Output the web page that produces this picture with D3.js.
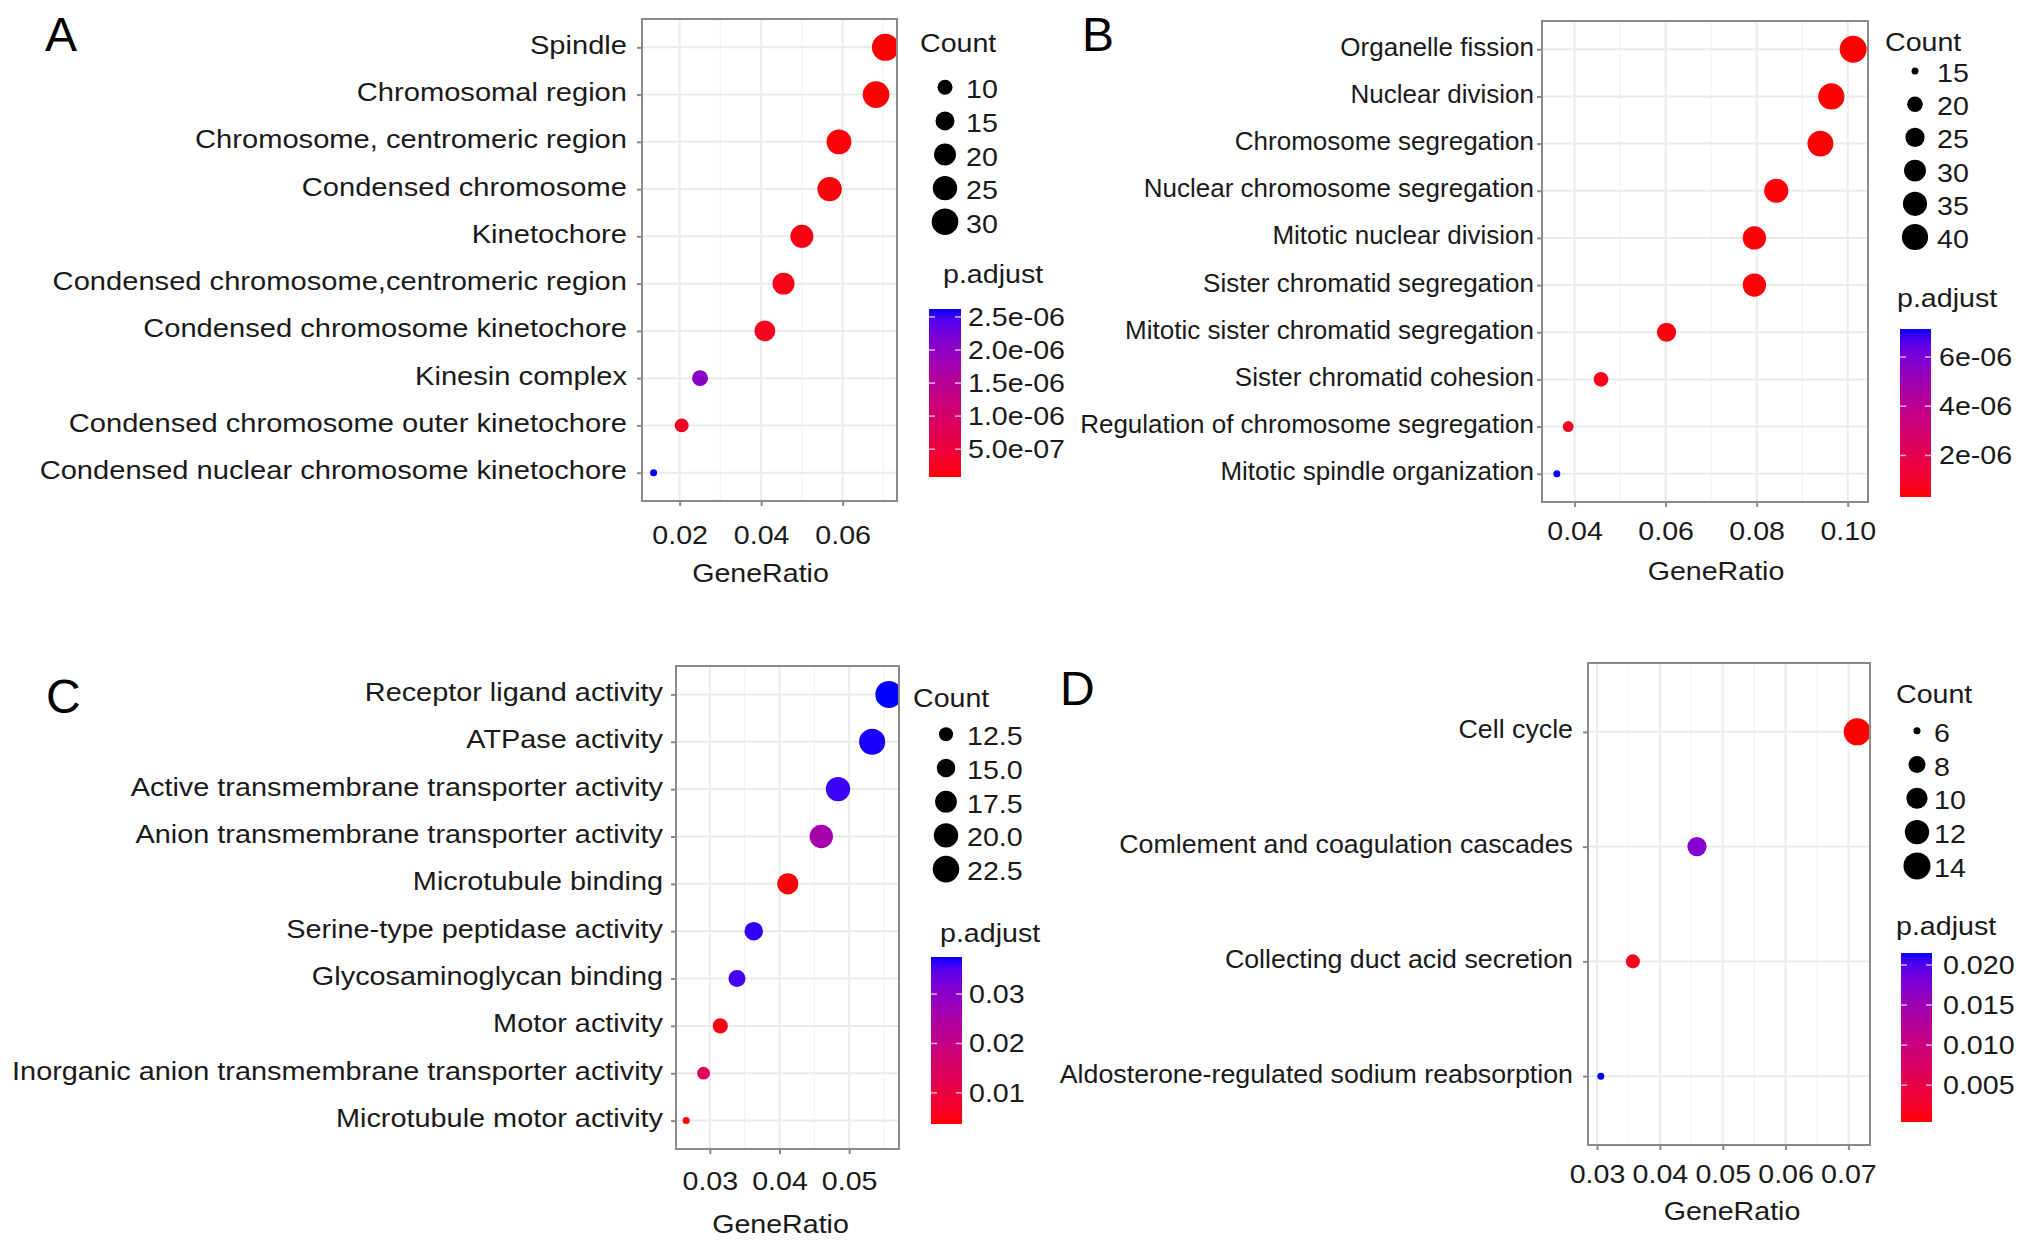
<!DOCTYPE html>
<html>
<head>
<meta charset="utf-8">
<script src="https://cdn.jsdelivr.net/npm/d3@7"></script>
<style>
  body { margin: 0; background: #fff; }
  svg text { font-family: 'Liberation Sans', Arial, Helvetica, sans-serif; }
</style>
</head>
<body>
<svg id="fig" width="2032" height="1247"></svg>
<script>
// ---- data ----
const termsA = ["Spindle", "Chromosomal region", "Chromosome, centromeric region", "Condensed chromosome",
  "Kinetochore", "Condensed chromosome,centromeric region", "Condensed chromosome kinetochore",
  "Kinesin complex", "Condensed chromosome outer kinetochore", "Condensed nuclear chromosome kinetochore"];
const ratioA = [0.0705, 0.0682, 0.0591, 0.0568, 0.0500, 0.0455, 0.0409, 0.0250, 0.0205, 0.0136];
const countA = [31, 30, 26, 25, 22, 20, 18, 11, 9, 6];
const padjA = [8e-8, 9e-8, 1.2e-7, 1.1e-7, 1.6e-7, 2.0e-7, 2.4e-7, 2.05e-6, 3.2e-7, 2.62e-6];

const termsB = ["Organelle fission", "Nuclear division", "Chromosome segregation", "Nuclear chromosome segregation",
  "Mitotic nuclear division", "Sister chromatid segregation", "Mitotic sister chromatid segregation",
  "Sister chromatid cohesion", "Regulation of chromosome segregation", "Mitotic spindle organization"];
const ratioB = [0.1012, 0.0964, 0.0940, 0.0843, 0.0795, 0.0795, 0.0602, 0.0458, 0.0386, 0.0361];
const countB = [42, 40, 39, 35, 33, 33, 25, 19, 16, 15];
const padjB = [3.1e-7, 3.2e-7, 3.3e-7, 3.5e-7, 3.6e-7, 3.8e-7, 4.6e-7, 6.0e-7, 8.5e-7, 7.14e-6];

const termsC = ["Receptor ligand activity", "ATPase activity", "Active transmembrane transporter activity",
  "Anion transmembrane transporter activity", "Microtubule binding", "Serine-type peptidase activity",
  "Glycosaminoglycan binding", "Motor activity", "Inorganic anion transmembrane transporter activity",
  "Microtubule motor activity"];
const ratioC = [0.0557, 0.0533, 0.0484, 0.0460, 0.0412, 0.0363, 0.0339, 0.0315, 0.0291, 0.0266];
const countC = [23, 22, 20, 19, 17, 15, 14, 13, 12, 11];
const padjC = [0.0375, 0.0372, 0.0362, 0.0258, 0.0042, 0.0366, 0.0358, 0.0050, 0.0135, 0.0037];

const termsD = ["Cell cycle", "Comlement and coagulation cascades", "Collecting duct acid secretion",
  "Aldosterone-regulated sodium reabsorption"];
const ratioD = [0.0714, 0.0459, 0.0357, 0.0306];
const countD = [14, 9, 7, 6];
const padjD = [0.0004, 0.0172, 0.0016, 0.0215];

// legend breaks / tick labels
const sizeBreaksA = [10, 15, 20, 25, 30], sizeLabelsA = ["10", "15", "20", "25", "30"];
const sizeBreaksB = [15, 20, 25, 30, 35, 40], sizeLabelsB = ["15", "20", "25", "30", "35", "40"];
const sizeBreaksC = [12.5, 15, 17.5, 20, 22.5], sizeLabelsC = ["12.5", "15.0", "17.5", "20.0", "22.5"];
const sizeBreaksD = [6, 8, 10, 12, 14], sizeLabelsD = ["6", "8", "10", "12", "14"];

const padjTicksA = [5e-7, 1e-6, 1.5e-6, 2e-6, 2.5e-6], padjLabelsA = ["5.0e-07", "1.0e-06", "1.5e-06", "2.0e-06", "2.5e-06"];
const padjTicksB = [2e-6, 4e-6, 6e-6], padjLabelsB = ["2e-06", "4e-06", "6e-06"];
const padjTicksC = [0.01, 0.02, 0.03], padjLabelsC = ["0.01", "0.02", "0.03"];
const padjTicksD = [0.005, 0.010, 0.015, 0.020], padjLabelsD = ["0.005", "0.010", "0.015", "0.020"];

const xTicksA = [0.02, 0.04, 0.06];
const xTicksB = [0.04, 0.06, 0.08, 0.10];
const xTicksC = [0.03, 0.04, 0.05];
const xTicksD = [0.03, 0.04, 0.05, 0.06, 0.07];

// ---- layout ----
const FS = 26;      // text size
const SX = 1.1;     // text is a bit wide in the original
const TXT = "#1a1a1a";
const GRID = "#EBEBEB";
const BORDER = "#8A8A8A";

const panels = [
  { name: "A", terms: termsA, ratio: ratioA, count: countA, padj: padjA,
    sizeBreaks: sizeBreaksA, sizeLabels: sizeLabelsA, padjTicks: padjTicksA, padjLabels: padjLabelsA, xTicks: xTicksA,
    box: { left: 642, right: 897, top: 19, bottom: 501 }, labelGap: 15, labelSX: 1.12,
    tickDy: 43, titleDy: 81, titleDx: -9, letter: [45, 51],
    lg: { countX: 920, countY: 52, dotX: 945, labelX: 966, itemY0: 87.3, itemStep: 33.6,
          pTitleX: 943, pTitleY: 283, barX: 929, barW: 32, barTop: 309, barBottom: 477, barLabelX: 968 } },
  { name: "B", terms: termsB, ratio: ratioB, count: countB, padj: padjB,
    sizeBreaks: sizeBreaksB, sizeLabels: sizeLabelsB, padjTicks: padjTicksB, padjLabels: padjLabelsB, xTicks: xTicksB,
    box: { left: 1542, right: 1868, top: 21, bottom: 502 }, labelGap: 8, labelSX: 1.0,
    tickDy: 38, titleDy: 78, titleDx: 11, letter: [1082, 51],
    lg: { countX: 1885, countY: 51, dotX: 1915, labelX: 1937, itemY0: 71, itemStep: 33.2,
          pTitleX: 1897, pTitleY: 307, barX: 1900, barW: 31, barTop: 329, barBottom: 497, barLabelX: 1939 } },
  { name: "C", terms: termsC, ratio: ratioC, count: countC, padj: padjC,
    sizeBreaks: sizeBreaksC, sizeLabels: sizeLabelsC, padjTicks: padjTicksC, padjLabels: padjLabelsC, xTicks: xTicksC,
    box: { left: 676, right: 899, top: 666, bottom: 1149 }, labelGap: 13, labelSX: 1.11,
    tickDy: 41, titleDy: 84, titleDx: -7, letter: [46, 713],
    lg: { countX: 913, countY: 707, dotX: 946, labelX: 967, itemY0: 734.3, itemStep: 33.7,
          pTitleX: 940, pTitleY: 942, barX: 931, barW: 31, barTop: 957, barBottom: 1124, barLabelX: 969 } },
  { name: "D", terms: termsD, ratio: ratioD, count: countD, padj: padjD,
    sizeBreaks: sizeBreaksD, sizeLabels: sizeLabelsD, padjTicks: padjTicksD, padjLabels: padjLabelsD, xTicks: xTicksD,
    box: { left: 1588, right: 1870, top: 663, bottom: 1145 }, labelGap: 15, labelSX: 1.03,
    tickDy: 38, titleDy: 75, titleDx: 3, letter: [1060, 705],
    lg: { countX: 1896, countY: 703, dotX: 1917, labelX: 1934, itemY0: 730.7, itemStep: 33.8,
          pTitleX: 1896, pTitleY: 935, barX: 1901, barW: 31, barTop: 953, barBottom: 1122, barLabelX: 1943 } }
];

const svg = d3.select("#fig");
svg.append("rect").attr("width", 2032).attr("height", 1247).attr("fill", "#fff");
const defs = svg.append("defs");

// stretched text helper
function label(g, x, y, s, anchor) {
  return g.append("text")
    .attr("transform", `translate(${x},${y}) scale(${SX},1)`)
    .attr("text-anchor", anchor || "start")
    .attr("font-size", FS)
    .attr("fill", TXT)
    .text(s);
}

function drawPanel(p) {
  const { left, right, top, bottom } = p.box;
  const g = svg.append("g").attr("class", "panel-" + p.name);

  const ext = d3.extent(p.ratio);
  const pad = (ext[1] - ext[0]) * 0.05;
  const x = d3.scaleLinear().domain([ext[0] - pad, ext[1] + pad]).range([left, right]);
  const y = d3.scalePoint().domain(p.terms).range([top, bottom]).padding(0.6);

  const cExt = d3.extent(p.count);
  const rScale = d3.scaleSqrt().domain([0, cExt[1] - cExt[0]]).range([3.5, 13.5]);
  const radius = c => rScale(Math.max(0, c - cExt[0]));

  const pExt = d3.extent(p.padj);
  const color = d3.scaleLinear().domain(pExt).range(["red", "blue"]).interpolate(d3.interpolateLab);

  // grid lines
  const step = p.xTicks[1] - p.xTicks[0];
  const minors = [p.xTicks[0] - step / 2].concat(p.xTicks.map(t => t + step / 2))
    .filter(v => v > x.domain()[0] && v < x.domain()[1]);
  g.selectAll(".minor").data(minors).join("line")
    .attr("x1", d => x(d)).attr("x2", d => x(d)).attr("y1", top).attr("y2", bottom)
    .attr("stroke", "#F3F3F3").attr("stroke-width", 1.2);
  g.selectAll(".vmajor").data(p.xTicks).join("line")
    .attr("x1", d => x(d)).attr("x2", d => x(d)).attr("y1", top).attr("y2", bottom)
    .attr("stroke", GRID).attr("stroke-width", 2);
  g.selectAll(".hmajor").data(p.terms).join("line")
    .attr("x1", left).attr("x2", right).attr("y1", d => y(d)).attr("y2", d => y(d))
    .attr("stroke", GRID).attr("stroke-width", 2);

  // points, clipped to the panel
  defs.append("clipPath").attr("id", "clip-" + p.name)
    .append("rect").attr("x", left).attr("y", top).attr("width", right - left).attr("height", bottom - top);
  g.append("g").attr("clip-path", `url(#clip-${p.name})`)
    .selectAll("circle").data(p.terms).join("circle")
    .attr("cx", (d, i) => x(p.ratio[i]))
    .attr("cy", d => y(d))
    .attr("r", (d, i) => radius(p.count[i]))
    .attr("fill", (d, i) => color(p.padj[i]));

  g.append("rect").attr("x", left).attr("y", top).attr("width", right - left).attr("height", bottom - top)
    .attr("fill", "none").attr("stroke", BORDER).attr("stroke-width", 2);

  // x axis
  const gx = g.append("g").attr("transform", `translate(0,${bottom})`)
    .call(d3.axisBottom(x).tickValues(p.xTicks).tickSize(5).tickFormat(d3.format(".2f")));
  gx.select(".domain").remove();
  gx.selectAll("line").attr("stroke", BORDER).attr("stroke-width", 2).attr("y1", 1);
  gx.selectAll("text").attr("y", p.tickDy).attr("dy", 0)
    .attr("transform", `scale(${SX},1)`)
    .attr("font-size", FS).attr("fill", TXT).attr("font-family", null);

  // y axis with term labels
  const gy = g.append("g").attr("transform", `translate(${left},0)`)
    .call(d3.axisLeft(y).tickSize(5));
  gy.select(".domain").remove();
  gy.selectAll("line").attr("stroke", BORDER).attr("stroke-width", 2).attr("x1", -1);
  gy.selectAll("text").attr("x", -p.labelGap / p.labelSX).attr("dy", "0.23em")
    .attr("transform", `scale(${p.labelSX},1)`)
    .attr("font-size", FS).attr("fill", TXT).attr("font-family", null);

  label(g, (left + right) / 2 + p.titleDx, bottom + p.titleDy, "GeneRatio", "middle");

  // panel letter
  g.append("text").attr("x", p.letter[0]).attr("y", p.letter[1])
    .attr("font-size", 48).attr("fill", "#000").text(p.name);

  // size legend
  const L = p.lg;
  label(g, L.countX, L.countY, "Count");
  const items = g.selectAll(".size-item").data(p.sizeBreaks).join("g")
    .attr("transform", (d, i) => `translate(0,${L.itemY0 + i * L.itemStep})`);
  items.append("circle").attr("cx", L.dotX).attr("cy", 0).attr("r", d => radius(d)).attr("fill", "#000");
  items.each(function (d, i) { label(d3.select(this), L.labelX, 11, p.sizeLabels[i]); });

  // colour bar
  label(g, L.pTitleX, L.pTitleY, "p.adjust");
  const grad = defs.append("linearGradient").attr("id", "grad-" + p.name)
    .attr("x1", 0).attr("y1", 1).attr("x2", 0).attr("y2", 0);
  d3.range(0, 1.0001, 0.05).forEach(t => {
    grad.append("stop").attr("offset", t).attr("stop-color", color(pExt[0] + t * (pExt[1] - pExt[0])));
  });
  g.append("rect").attr("x", L.barX).attr("y", L.barTop).attr("width", L.barW).attr("height", L.barBottom - L.barTop)
    .attr("fill", `url(#grad-${p.name})`);
  const cb = d3.scaleLinear().domain(pExt).range([L.barBottom, L.barTop]);
  const tk = g.selectAll(".cb-tick").data(p.padjTicks).join("g")
    .attr("transform", d => `translate(0,${cb(d)})`);
  tk.append("line").attr("x1", L.barX).attr("x2", L.barX + 6).attr("stroke", "#fff").attr("stroke-opacity", 0.7).attr("stroke-width", 1.5);
  tk.append("line").attr("x1", L.barX + L.barW - 6).attr("x2", L.barX + L.barW).attr("stroke", "#fff").attr("stroke-opacity", 0.7).attr("stroke-width", 1.5);
  tk.each(function (d, i) { label(d3.select(this), L.barLabelX, 9, p.padjLabels[i]); });
}

panels.forEach(drawPanel);
</script>
</body>
</html>
